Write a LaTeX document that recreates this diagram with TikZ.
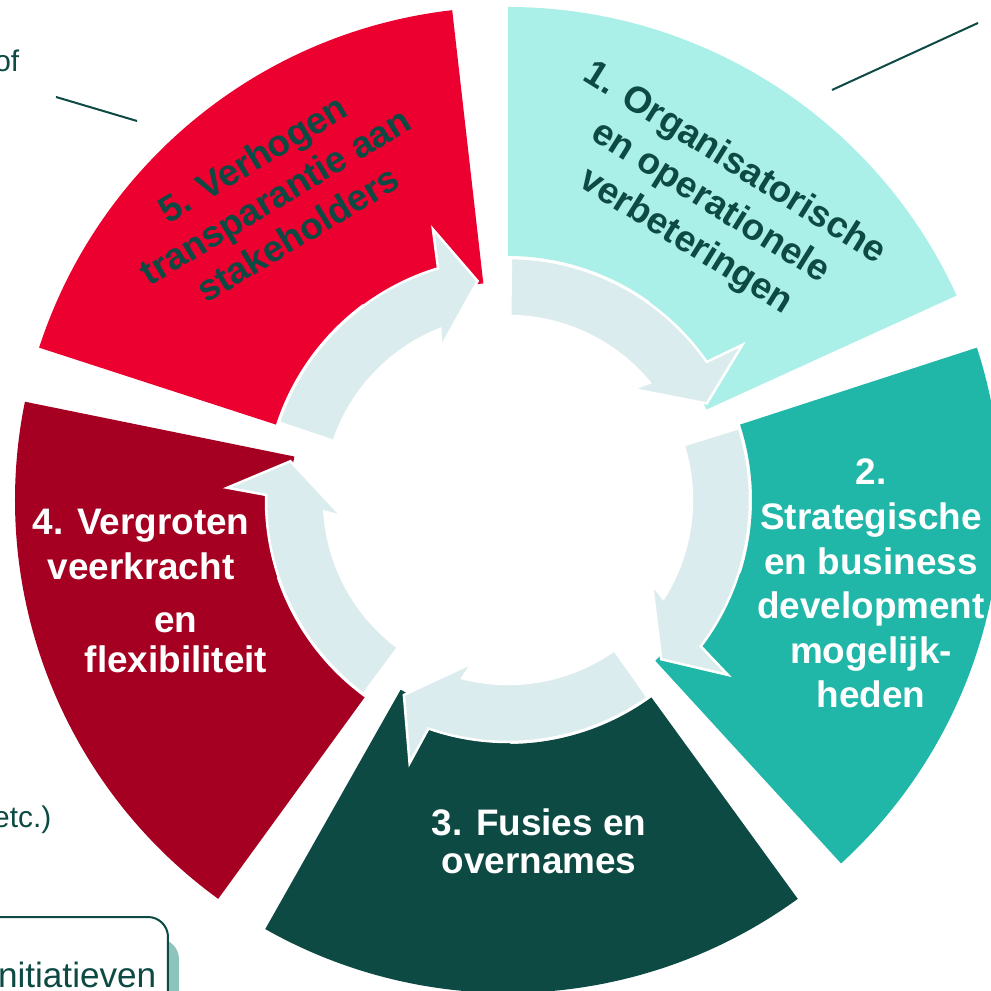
\documentclass[tikz,border=0pt]{standalone}
\usepackage{fontspec}
\newfontfamily\arialfont{Liberation Sans}
\usepackage{tikz}
\usetikzlibrary{calc}
\definecolor{segcyan}{HTML}{AAF0E8}
\definecolor{segteal}{HTML}{20B7A8}
\definecolor{segdark}{HTML}{0D4A43}
\definecolor{segwine}{HTML}{A50021}
\definecolor{segred}{HTML}{EB0030}
\definecolor{arrowgrey}{HTML}{DAECED}
\definecolor{shadowteal}{HTML}{8CC4BC}
\tikzset{
	seglabel/.style={font=\arialfont\bfseries\fontsize{10.5}{12}\selectfont, anchor=base, inner sep=0pt},
	tiltlabel/.style={seglabel, anchor=center, align=center, text=segdark},
	sidelabel/.style={font=\arialfont\fontsize{8.5}{10}\selectfont, text=segdark, inner sep=0pt, anchor=base east},
	cyclearrow/.style={fill=arrowgrey, draw=white, line width=0.025cm, line join=miter},
	calloutline/.style={draw=segdark, line width=0.02cm}
}
\def\ringsegment[#1](#2:#3){\fill[#1] (#2:2.18) -- (#2:4.93) arc (#2:#3:4.93) -- (#3:2.44) arc (#3:#2+30:2.44) -- (#2+30:2.18) arc (#2+30:#2:2.18) -- cycle;}
\def\ringarrow(#1){\filldraw[cyclearrow, rotate=#1] (89.3:2.42) arc (89.3:34.8:2.42) -- (33.5:2.81) -- (25.9:2.21) -- (41.6:1.67) -- (39.6:1.84) arc (39.6:89.3:1.84) -- cycle;}

\begin{document}
\begin{tikzpicture}
			%%%%% START %%%%%
			\path[use as bounding box, clip] (-5.08,-4.91) rectangle (4.83,5.00);
			
			% ring of five segments
			\ringsegment[segcyan](24.5:90)
			\ringsegment[segteal](-47.5:18)
			\ringsegment[segdark](-119.5:-54)
			\ringsegment[segwine](168.5:234)
			\ringsegment[segred](96.5:162)
			
			% arrows inside
			\ringarrow(0)
			\ringarrow(-72)
			\ringarrow(-144)
			\ringarrow(-216)
			\ringarrow(-288)
			
			% 1
			\node[tiltlabel, rotate=-32, font=\arialfont\bfseries\fontsize{10.5}{13.1}\selectfont] (cyanlabel) at (2.02,2.97) {1. Organisatorische\\en operationele\\verbeteringen};
			
			% 2
			\foreach \txt [count=\i] in {2.,Strategische,en business,development,mogelijk-,heden}
				\node[seglabel, text=white] (teal\i) at (3.63,{0.15-0.446*(\i-1)}) {\txt};
			
			% 3
			\node[seglabel, text=white] (dark1) at (0.31,-3.35) {3. Fusies en};
			\node[seglabel, text=white] (dark2) at (0.31,-3.73) {overnames};
			
			% 4
			\node[seglabel, text=white] (wine1) at (-3.67,-0.35) {4. Vergroten};
			\node[seglabel, text=white] (wine2) at (-3.67,-0.80) {veerkracht};
			\node[seglabel, text=white] (wine3) at (-3.32,-1.33) {en};
			\node[seglabel, text=white] (wine4) at (-3.32,-1.73) {flexibiliteit};
			
			% 5
			\node[tiltlabel, rotate=31, font=\arialfont\bfseries\fontsize{10.5}{12.5}\selectfont] (redlabel) at (-2.33,3.04) {5. Verhogen\\transparantie aan\\stakeholders};
			
			% cut-off notes round the ring
			\coordinate (calloutA) at (-4.52,4.03);
			\coordinate (calloutB) at (-3.71,3.79);
			\coordinate (calloutC) at (3.24,4.10);
			\coordinate (calloutD) at (4.70,4.77);
			\draw[calloutline] (calloutA) -- (calloutB);
			\draw[calloutline] (calloutC) -- (calloutD);
			
			\node[sidelabel] (ofnote) at (-4.88,4.28) {of};
			\node[sidelabel] (etcnote) at (-4.56,-3.27) {etc.)};
			
			\fill[shadowteal, rounded corners=0.2cm] (-5.2,-5.4) rectangle (-3.29,-4.39);
			\draw[segdark, line width=0.02cm, fill=white, rounded corners=0.2cm] (-5.3,-5.2) rectangle (-3.40,-4.17);
			\node[sidelabel, font=\arialfont\fontsize{10}{12}\selectfont] (initnote) at (-3.51,-4.87) {nitiatieven};
			
			%%%%% END %%%%%
\end{tikzpicture}
\end{document}
